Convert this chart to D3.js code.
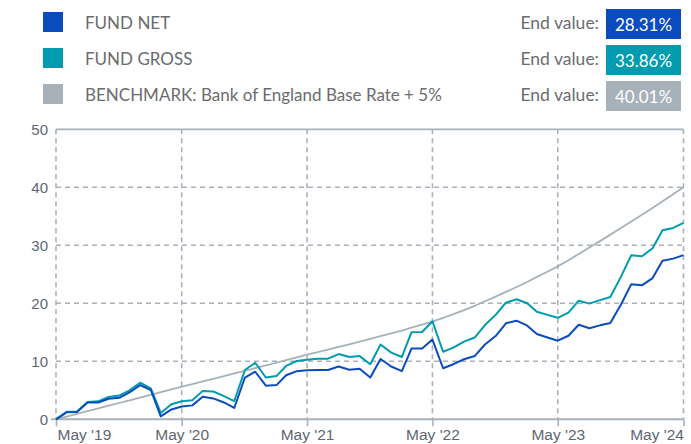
<!DOCTYPE html>
<html>
<head>
<meta charset="utf-8">
<script src="https://cdn.jsdelivr.net/npm/d3@7"></script>
<style>
  html, body { margin: 0; padding: 0; background: #ffffff; }
  svg { display: block; }
</style>
</head>
<body>
<svg id="chart" width="691" height="444"></svg>
<script>
// ---------- DATA ----------
const startMonth = new Date(2019, 4, 1);   // May 2019
const endMonth = new Date(2024, 4, 1);     // May 2024

const seriesNames = ["FUND NET", "FUND GROSS", "BENCHMARK: Bank of England Base Rate + 5%"];
const endValues = ["28.31%", "33.86%", "40.01%"];

const fundNet = [0, 1.2, 1.25, 2.9, 2.9, 3.55, 3.7, 4.65, 5.9, 5.05, 0.5, 1.7, 2.2,
  2.4, 3.9, 3.6, 2.9, 1.95, 7.2, 8.2, 5.8, 5.9, 7.6, 8.3, 8.45,
  8.5, 8.5, 9.1, 8.55, 8.7, 7.2, 10.4, 9.1, 8.3, 12.2, 12.2, 13.75,
  8.8, 9.5, 10.35, 10.9, 12.9, 14.35, 16.55, 17.0, 16.15, 14.7, 14.1, 13.55,
  14.4, 16.3, 15.7, 16.2, 16.6, 19.8, 23.3, 23.1, 24.35, 27.35, 27.7, 28.31];

const fundGross = [0, 1.3, 1.35, 3.0, 3.1, 3.85, 4.1, 5.0, 6.3, 5.35, 1.1, 2.6, 3.1,
  3.3, 4.9, 4.8, 4.0, 3.15, 8.5, 9.75, 7.2, 7.45, 9.2, 10.05, 10.25,
  10.45, 10.45, 11.25, 10.75, 10.9, 9.5, 12.9, 11.5, 10.75, 15.0, 15.05, 16.9,
  11.65, 12.35, 13.4, 14.1, 16.25, 18.0, 20.1, 20.7, 20.0, 18.55, 18.0, 17.5,
  18.4, 20.45, 19.95, 20.55, 21.1, 24.6, 28.3, 28.1, 29.5, 32.6, 33.0, 33.86];

const benchmark = [0, 0.47, 0.93, 1.40, 1.87, 2.34, 2.81, 3.28, 3.75, 4.22, 4.69, 5.16, 5.63,
  6.08, 6.54, 6.99, 7.45, 7.91, 8.37, 8.83, 9.29, 9.75, 10.21, 10.67, 11.13,
  11.57, 12.02, 12.47, 12.93, 13.39, 13.86, 14.33, 14.81, 15.30, 15.80, 16.31, 16.85,
  17.47, 18.13, 18.83, 19.57, 20.35, 21.15, 21.97, 22.81, 23.67, 24.55, 25.45, 26.37,
  27.43, 28.51, 29.61, 30.72, 31.84, 32.97, 34.11, 35.26, 36.42, 37.60, 38.80, 40.01];

const xTickLabels = ["May '19", "May '20", "May '21", "May '22", "May '23", "May '24"];
const yTickValues = [0, 10, 20, 30, 40, 50];

// ---------- STYLE ----------
const colors = ["#0a4cbd", "#009bae", "#a7b1ba"];
const gridColor = "#a9b2bb";
const labelColor = "#5d6673";
const legendColor = "#6b6c6f";

// ---------- LAYOUT ----------
const svg = d3.select("#chart");
const plot = { left: 56, right: 683.5, top: 129.3, bottom: 419.3 };

const months = d3.timeMonth.range(startMonth, d3.timeMonth.offset(endMonth, 1));
const x = d3.scaleTime().domain([startMonth, endMonth]).range([plot.left, plot.right]);
const y = d3.scaleLinear().domain([0, 50]).range([plot.bottom, plot.top]);

const xTickDates = xTickLabels.map((_, i) => d3.timeYear.offset(startMonth, i));

// horizontal grid
svg.append("g").selectAll("line")
  .data(yTickValues.filter(v => v !== 0 && v !== 50))
  .join("line")
  .attr("x1", plot.left).attr("x2", plot.right)
  .attr("y1", d => y(d)).attr("y2", d => y(d))
  .attr("stroke", gridColor).attr("stroke-width", 1.6)
  .attr("stroke-dasharray", "5,4");

// vertical grid
svg.append("g").selectAll("line")
  .data(xTickDates)
  .join("line")
  .attr("x1", d => x(d)).attr("x2", d => x(d))
  .attr("y1", plot.top).attr("y2", plot.bottom)
  .attr("stroke", gridColor).attr("stroke-width", 1.6)
  .attr("stroke-dasharray", "5,4");

// top solid line
svg.append("line")
  .attr("x1", plot.left).attr("x2", plot.right)
  .attr("y1", y(50)).attr("y2", y(50))
  .attr("stroke", gridColor).attr("stroke-width", 1.8);

// Y axis labels
const yAxis = d3.axisLeft(y).tickValues(yTickValues).tickSize(0).tickPadding(8);
const gy = svg.append("g").attr("transform", `translate(${plot.left},0)`).call(yAxis);
gy.select(".domain").remove();
gy.selectAll("text")
  .attr("fill", labelColor)
  .style("font-family", "'Liberation Sans', Arial, sans-serif")
  .style("font-size", "15px");

// X axis
const xAxis = d3.axisBottom(x).tickValues(xTickDates)
  .tickFormat((d, i) => xTickLabels[i]).tickSize(7).tickPadding(3);
const gx = svg.append("g").attr("transform", `translate(0,${plot.bottom})`).call(xAxis);
gx.select(".domain").remove();
gx.selectAll(".tick line").attr("stroke", gridColor).attr("stroke-width", 1.6);
gx.selectAll("text")
  .attr("fill", labelColor)
  .style("font-family", "'Liberation Sans', Arial, sans-serif")
  .style("font-size", "15.5px")
  .attr("text-anchor", (d, i) => i === 0 ? "start" : (i === xTickLabels.length - 1 ? "end" : "middle"))
  .attr("dx", (d, i) => i === 0 ? 1 : 0);

// baseline axis line
svg.append("line")
  .attr("x1", plot.left - 5).attr("x2", plot.right)
  .attr("y1", plot.bottom).attr("y2", plot.bottom)
  .attr("stroke", gridColor).attr("stroke-width", 2);

// ---------- LINES ----------
const line = d3.line().x((d, i) => x(months[i])).y(d => y(d));
const seriesData = [benchmark, fundGross, fundNet];
const seriesColors = [colors[2], colors[1], colors[0]];
const seriesWidths = [1.8, 2, 2];
svg.append("g").selectAll("path")
  .data(seriesData)
  .join("path")
  .attr("d", d => line(d))
  .attr("fill", "none")
  .attr("stroke", (d, i) => seriesColors[i])
  .attr("stroke-width", (d, i) => seriesWidths[i])
  .attr("stroke-linejoin", "round");

// ---------- LEGEND ----------
const legendFont = "'Source Sans Pro', Lato, 'Open Sans', sans-serif";
const rowY = [12, 48, 84];
const lg = svg.append("g");
seriesNames.forEach((name, i) => {
  lg.append("rect").attr("x", 43).attr("y", rowY[i]).attr("width", 20).attr("height", 20)
    .attr("fill", colors[i]);
  lg.append("text").attr("x", 85).attr("y", rowY[i] + 16.5)
    .attr("fill", legendColor)
    .style("font-family", legendFont).style("font-size", "17px")
    .text(name);
  lg.append("text").attr("x", 599).attr("y", rowY[i] + 16.5)
    .attr("text-anchor", "end")
    .attr("fill", legendColor)
    .style("font-family", legendFont).style("font-size", "17.5px")
    .text("End value:");
  lg.append("rect").attr("x", 606).attr("y", rowY[i] - 3).attr("width", 75).attr("height", 30)
    .attr("fill", colors[i]);
  lg.append("text").attr("x", 643.5).attr("y", rowY[i] + 19)
    .attr("text-anchor", "middle")
    .attr("fill", "#ffffff")
    .style("font-family", legendFont).style("font-size", "17px")
    .text(endValues[i]);
});
</script>
</body>
</html>
